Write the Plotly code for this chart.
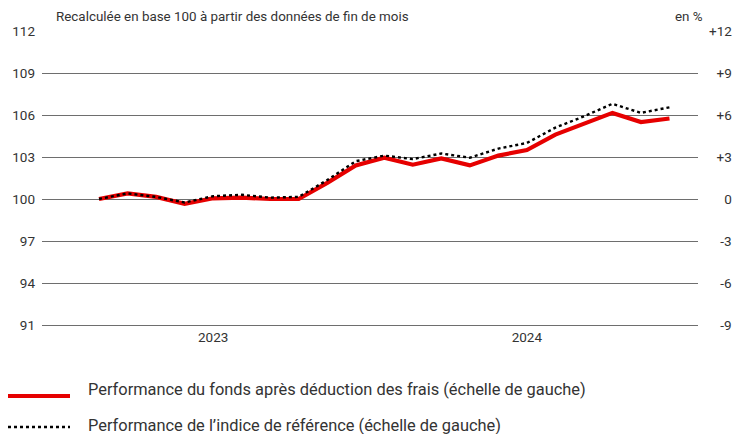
import plotly.graph_objects as go

x_index = list(range(21))
fund = [100.0, 100.4, 100.15, 99.65, 100.05, 100.1, 100.0, 100.0, 101.15, 102.4, 102.95,
        102.45, 102.9, 102.4, 103.1, 103.5, 104.6, 105.4, 106.15, 105.5, 105.75]
bench = [100.0, 100.4, 100.15, 99.75, 100.2, 100.3, 100.1, 100.15, 101.35, 102.7, 103.1,
         102.85, 103.25, 102.95, 103.6, 104.0, 105.1, 105.9, 106.8, 106.15, 106.55]
year_pos = [4, 15]
year_labels = ["2023", "2024"]
left_ticks = [91, 94, 97, 100, 103, 106, 109, 112]
right_ticks = [-9, -6, -3, 0, 3, 6, 9, 12]
right_labels = ["\u2007\u2008-9", "\u2007\u2008-6", "\u2007\u2008-3", "\u2007\u20070",
                "\u2007+3", "\u2007+6", "\u2007+9", "+12"]
legend_names = ["Performance du fonds après déduction des frais (échelle de gauche)",
                "Performance de l’indice de référence (échelle de gauche)"]

FONT = "Roboto, sans-serif"
TXT = "#333333"
GRID = "#6e6e6e"
L, R, T, B = 42, 36, 31, 109
W, H = 734, 434
PW, PH = W - L - R, H - T - B

fig = go.Figure()
fig.add_trace(go.Scatter(x=x_index, y=fund, mode="lines",
                         line=dict(color="#e60000", width=4.2), showlegend=False))
fig.add_trace(go.Scatter(x=x_index, y=bench, mode="lines",
                         line=dict(color="#000000", width=2.4, dash="dot"), showlegend=False))
fig.add_trace(go.Scatter(x=[x_index[0]], y=[0], yaxis="y2", mode="markers",
                         marker=dict(opacity=0), showlegend=False, hoverinfo="skip"))

fig.update_layout(
    width=W, height=H,
    margin=dict(l=L, r=R, t=T, b=B, autoexpand=False),
    paper_bgcolor="white", plot_bgcolor="white",
    font=dict(family=FONT, size=14, color=TXT),
    xaxis=dict(range=[-2, 21], tickmode="array", tickvals=year_pos, ticktext=year_labels,
               showgrid=False, zeroline=False, showline=True, linecolor=GRID, linewidth=1.4,
               ticks="", tickfont=dict(size=13.5, color=TXT), automargin=False),
    yaxis=dict(range=[91, 112], tickmode="array", tickvals=left_ticks,
               showgrid=True, gridcolor=GRID, gridwidth=1.4, zeroline=False,
               showline=False, ticks="", tickfont=dict(size=13.5, color=TXT),
               ticklabelstandoff=6, automargin=False),
    yaxis2=dict(range=[-9, 12], overlaying="y", side="right", tickmode="array",
                tickvals=right_ticks, ticktext=right_labels, showgrid=False, zeroline=False,
                showline=False, ticks="", tickfont=dict(size=13.5, color=TXT),
                ticklabelstandoff=10, automargin=False),
    showlegend=False,
)

def pxx(px):
    return (px - L) / PW

def pxy(py):
    return 1 - (py - T) / PH

annots = [
    dict(x=pxx(54), y=pxy(17), text="Recalculée en base 100 à partir des données de fin de mois",
         xanchor="left", font=dict(size=13.4, color=TXT)),
    dict(x=pxx(705), y=pxy(17), text="en %", xanchor="right", font=dict(size=13.4, color=TXT)),
    dict(x=pxx(86), y=pxy(389), text=legend_names[0], xanchor="left", font=dict(size=16.4, color=TXT)),
    dict(x=pxx(86), y=pxy(425), text=legend_names[1], xanchor="left", font=dict(size=16.4, color=TXT)),
]
for a in annots:
    a.update(xref="paper", yref="paper", showarrow=False, yanchor="middle")
fig.update_layout(annotations=annots)

fig.add_shape(type="line", xref="paper", yref="paper", x0=pxx(8), x1=pxx(70), y0=pxy(396), y1=pxy(396),
              line=dict(color="#e60000", width=4.2))
fig.add_shape(type="line", xref="paper", yref="paper", x0=pxx(8), x1=pxx(70), y0=pxy(427), y1=pxy(427),
              line=dict(color="#000000", width=2.4, dash="dot"))

fig.write_html("out.html", config={"displayModeBar": False},
               post_script="document.body.style.margin='0';document.body.style.padding='0';")
